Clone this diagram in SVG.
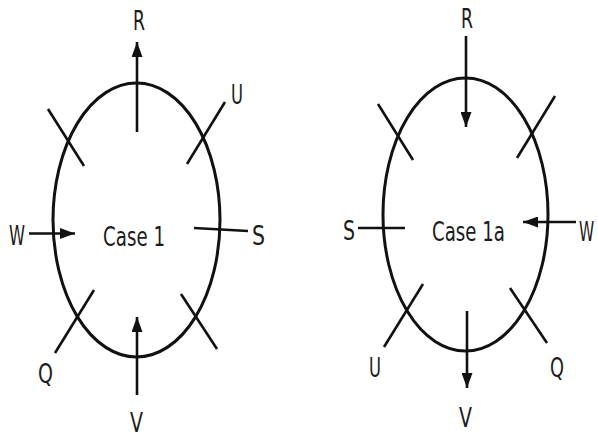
<svg xmlns="http://www.w3.org/2000/svg" width="598" height="438" viewBox="0 0 598 438">
<style>
.ring{fill:none;stroke:#111;stroke-width:3}
.tick{stroke:#111;stroke-width:2.6;stroke-linecap:butt}
.arr{stroke:#111;stroke-width:2.6;fill:none;marker-end:url(#ah)}
text{font-family:"DejaVu Sans","Liberation Sans",sans-serif;font-size:27px;fill:#1c1c1c}
</style>
<defs>
<marker id="ah" markerUnits="userSpaceOnUse" markerWidth="15" markerHeight="11" refX="15" refY="5.5" orient="auto">
<path d="M0,0 L15,5.5 L0,11 z" fill="#111"/>
</marker>
</defs>
<rect width="598" height="438" fill="#fff"/>
<g id="case1">
<ellipse class="ring" cx="136.5" cy="220" rx="83.5" ry="137"/>
<text x="103" y="246" textLength="62" lengthAdjust="spacingAndGlyphs">Case 1</text>
</g>
<g id="case1a">
<ellipse class="ring" cx="465.5" cy="214.5" rx="82.5" ry="136.5"/>
<text x="432" y="241" textLength="73" lengthAdjust="spacingAndGlyphs">Case 1a</text>
</g>
<g id="labels1">
<text x="133" y="30" textLength="12" lengthAdjust="spacingAndGlyphs">R</text>
<text x="231" y="104" textLength="12" lengthAdjust="spacingAndGlyphs">U</text>
<text x="9" y="245" textLength="16" lengthAdjust="spacingAndGlyphs">W</text>
<text x="252" y="245" textLength="13" lengthAdjust="spacingAndGlyphs">S</text>
<text x="38" y="383" textLength="15" lengthAdjust="spacingAndGlyphs">Q</text>
<text x="130" y="432" textLength="13" lengthAdjust="spacingAndGlyphs">V</text>
</g>
<g id="labels1a">
<text x="461" y="28" textLength="12" lengthAdjust="spacingAndGlyphs">R</text>
<text x="343" y="240" textLength="12" lengthAdjust="spacingAndGlyphs">S</text>
<text transform="translate(579,241) scale(0.57,1)">W</text>
<text x="369" y="377" textLength="12" lengthAdjust="spacingAndGlyphs">U</text>
<text x="550" y="377" textLength="14" lengthAdjust="spacingAndGlyphs">Q</text>
<text x="459" y="427" textLength="13" lengthAdjust="spacingAndGlyphs">V</text>
</g>
<g id="connectors">
<line class="tick" x1="48" y1="109" x2="84" y2="166"/>
<line class="tick" x1="225" y1="102" x2="187" y2="164"/>
<line class="tick" x1="94" y1="290" x2="55" y2="353"/>
<line class="tick" x1="181" y1="294" x2="217" y2="349"/>
<line class="tick" x1="194" y1="228" x2="248" y2="231"/>
<line class="arr" x1="137" y1="132" x2="137" y2="42"/>
<line class="arr" x1="29" y1="233.5" x2="75" y2="233.5"/>
<line class="arr" x1="137" y1="395" x2="137" y2="317"/>
<line class="tick" x1="378" y1="104" x2="413" y2="160"/>
<line class="tick" x1="555" y1="96" x2="517" y2="158"/>
<line class="tick" x1="423" y1="284" x2="384" y2="347"/>
<line class="tick" x1="510" y1="288" x2="547" y2="343"/>
<line class="tick" x1="358" y1="228" x2="405" y2="228"/>
<line class="arr" x1="466" y1="36" x2="466" y2="127"/>
<line class="arr" x1="576" y1="222" x2="523" y2="222"/>
<line class="arr" x1="467" y1="311" x2="467" y2="388"/>
</g>
</svg>
